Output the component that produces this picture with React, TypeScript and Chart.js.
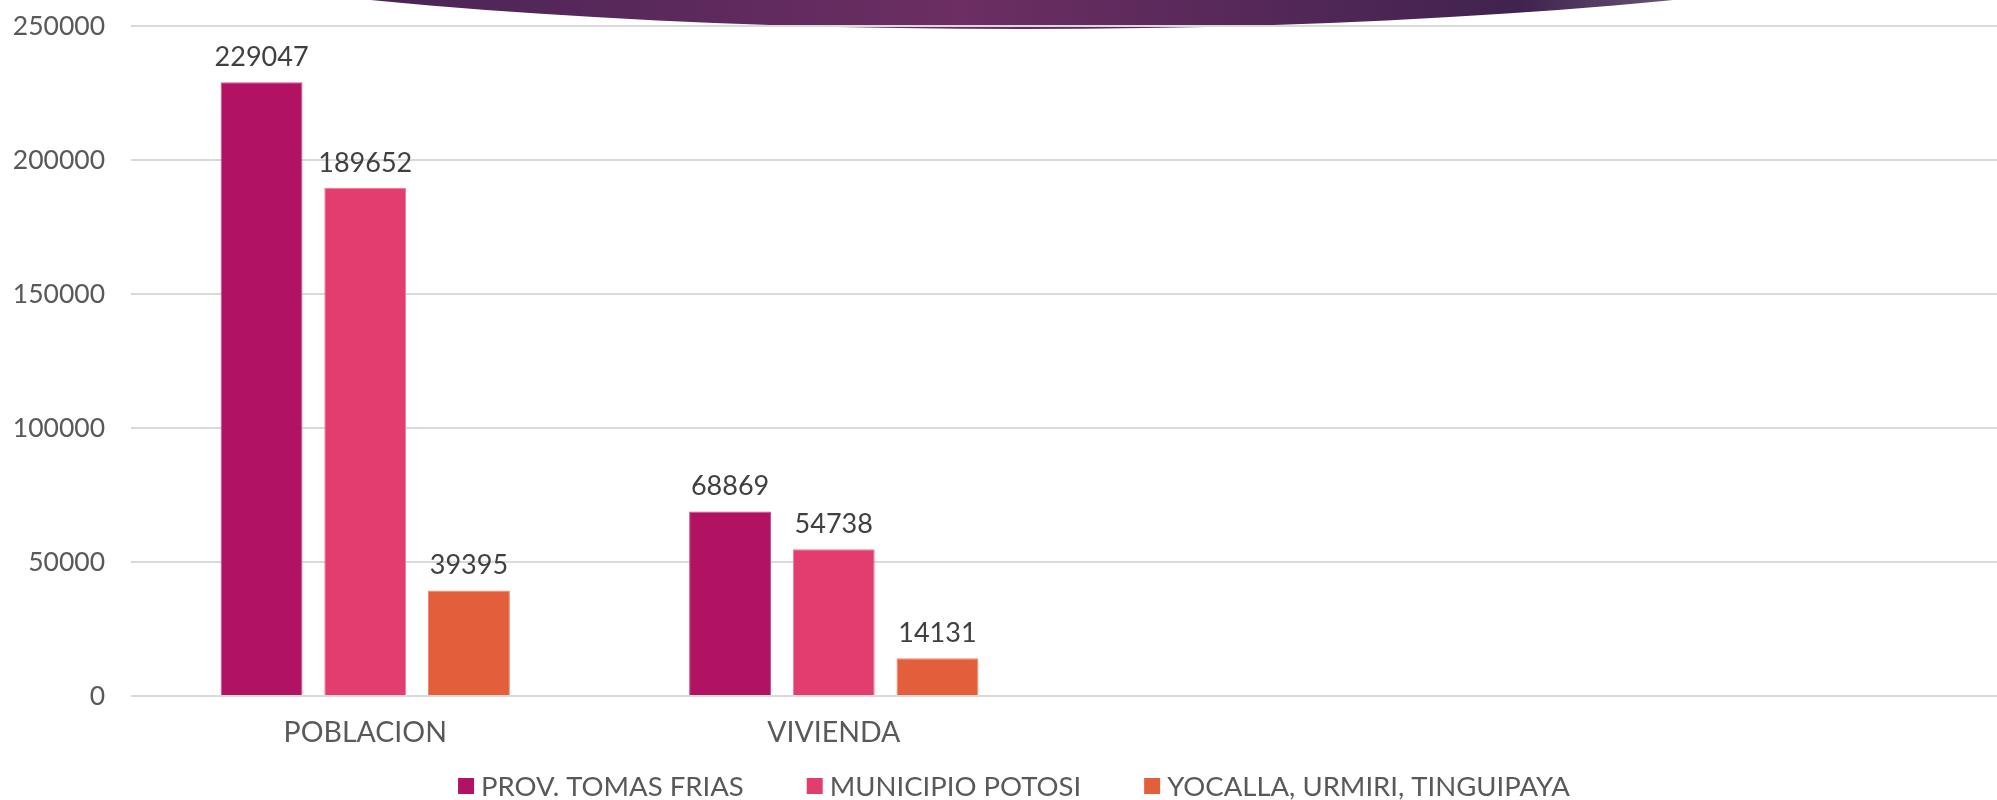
import React, { useEffect, useRef } from "react";
import { Chart, registerables } from "chart.js";

Chart.register(...registerables);

const categories = ["POBLACION", "VIVIENDA", "", ""];
const seriesNames = ["PROV. TOMAS FRIAS", "MUNICIPIO POTOSI", "YOCALLA, URMIRI, TINGUIPAYA"];
const tomasFrias = [229047, 68869];
const municipioPotosi = [189652, 54738];
const yocalla = [39395, 14131];
const seriesColors = ["#B21262", "#E33D6F", "#E35F3C"];
const seriesBorders = ["#C8558C", "#EC7A9C", "#EE8A6E"];
const yMax = 250000;
const yStep = 50000;

const FONT = "Lato, 'Open Sans', sans-serif";
const TEXT = "#595959";

const bannerPlugin = {
  id: "banner",
  beforeDraw(chart: any) {
    const ctx = chart.ctx;
    ctx.save();
    const g = ctx.createLinearGradient(370, 0, 1680, 0);
    g.addColorStop(0, "#4A2455");
    g.addColorStop(0.45, "#6C2E63");
    g.addColorStop(0.88, "#40234F");
    g.addColorStop(1, "#6A5878");
    ctx.fillStyle = g;
    ctx.beginPath();
    ctx.ellipse(1022, -171, 1256, 200, 0, 0, Math.PI * 2);
    ctx.fill();
    ctx.restore();
  },
};

const valueLabelPlugin = {
  id: "valueLabels",
  afterDatasetsDraw(chart: any) {
    const ctx = chart.ctx;
    ctx.save();
    ctx.font = `27px ${FONT}`;
    ctx.fillStyle = "#404040";
    ctx.textAlign = "center";
    ctx.textBaseline = "alphabetic";
    chart.data.datasets.forEach((ds: any, di: number) => {
      const meta = chart.getDatasetMeta(di);
      meta.data.forEach((bar: any, i: number) => {
        const v = ds.data[i];
        if (v == null) return;
        ctx.fillText(String(v), bar.x, bar.y - 16);
      });
    });
    ctx.restore();
  },
};

const legendPlugin = {
  id: "customLegend",
  afterDraw(chart: any) {
    const ctx = chart.ctx;
    ctx.save();
    ctx.font = `27.5px ${FONT}`;
    const box = 16;
    const gapBoxText = 7;
    const gapItems = 63;
    const items = chart.data.datasets.map((ds: any) => ({
      text: ds.label,
      color: ds.backgroundColor,
      w: box + gapBoxText + ctx.measureText(ds.label).width,
    }));
    const total = items.reduce((s: number, it: any) => s + it.w, 0) + gapItems * (items.length - 1);
    let x = 1014 - total / 2;
    const cy = 786;
    ctx.textBaseline = "middle";
    ctx.textAlign = "left";
    items.forEach((it: any) => {
      ctx.fillStyle = it.color;
      ctx.fillRect(x, cy - box / 2, box, box);
      ctx.fillStyle = TEXT;
      ctx.fillText(it.text, x + box + gapBoxText, cy + 1);
      x += it.w + gapItems;
    });
    ctx.restore();
  },
};

export default function App() {
  const ref = useRef<HTMLCanvasElement | null>(null);
  useEffect(() => {
    if (!ref.current) return;
    const values = [tomasFrias, municipioPotosi, yocalla];
    const chart = new Chart(ref.current, {
      type: "bar",
      data: {
        labels: categories,
        datasets: seriesNames.map((name, i) => ({
          label: name,
          data: values[i],
          backgroundColor: seriesColors[i],
          borderColor: seriesBorders[i],
          borderWidth: 1,
          categoryPercentage: 0.664,
          barPercentage: 0.79,
        })),
      },
      options: {
        responsive: false,
        animation: false,
        devicePixelRatio: 1,
        layout: { padding: { top: 26, right: 23, left: 0, bottom: 0 } },
        plugins: {
          legend: { display: false },
          tooltip: { enabled: false },
        },
        scales: {
          x: {
            grid: { display: false, drawTicks: false },
            border: { display: false },
            ticks: {
              color: TEXT,
              font: { family: FONT, size: 28.5 },
              padding: 20,
              autoSkip: false,
              maxRotation: 0,
            },
            afterFit: (s: any) => {
              s.height = 104;
            },
          },
          y: {
            min: 0,
            max: yMax,
            grid: { color: "#D9D9D9", lineWidth: 2, drawTicks: false },
            border: { display: false },
            ticks: {
              stepSize: yStep,
              color: TEXT,
              font: { family: FONT, size: 26.5 },
              padding: 26,
              callback: (v: any) => String(v),
            },
            afterFit: (s: any) => {
              s.width = 131;
              s.paddingTop = 0;
              s.paddingBottom = 0;
            },
          },
        },
      },
      plugins: [bannerPlugin, valueLabelPlugin, legendPlugin],
    });
    return () => chart.destroy();
  }, []);

  return (
    <div
      style={{
        position: "absolute",
        left: 0,
        top: 0,
        width: 1997,
        height: 800,
        overflow: "hidden",
        background: "#fff",
      }}
    >
      <canvas
        ref={ref}
        width={2028}
        height={800}
        style={{ position: "absolute", left: 0, top: 0, width: 2028, height: 800 }}
      />
    </div>
  );
}
